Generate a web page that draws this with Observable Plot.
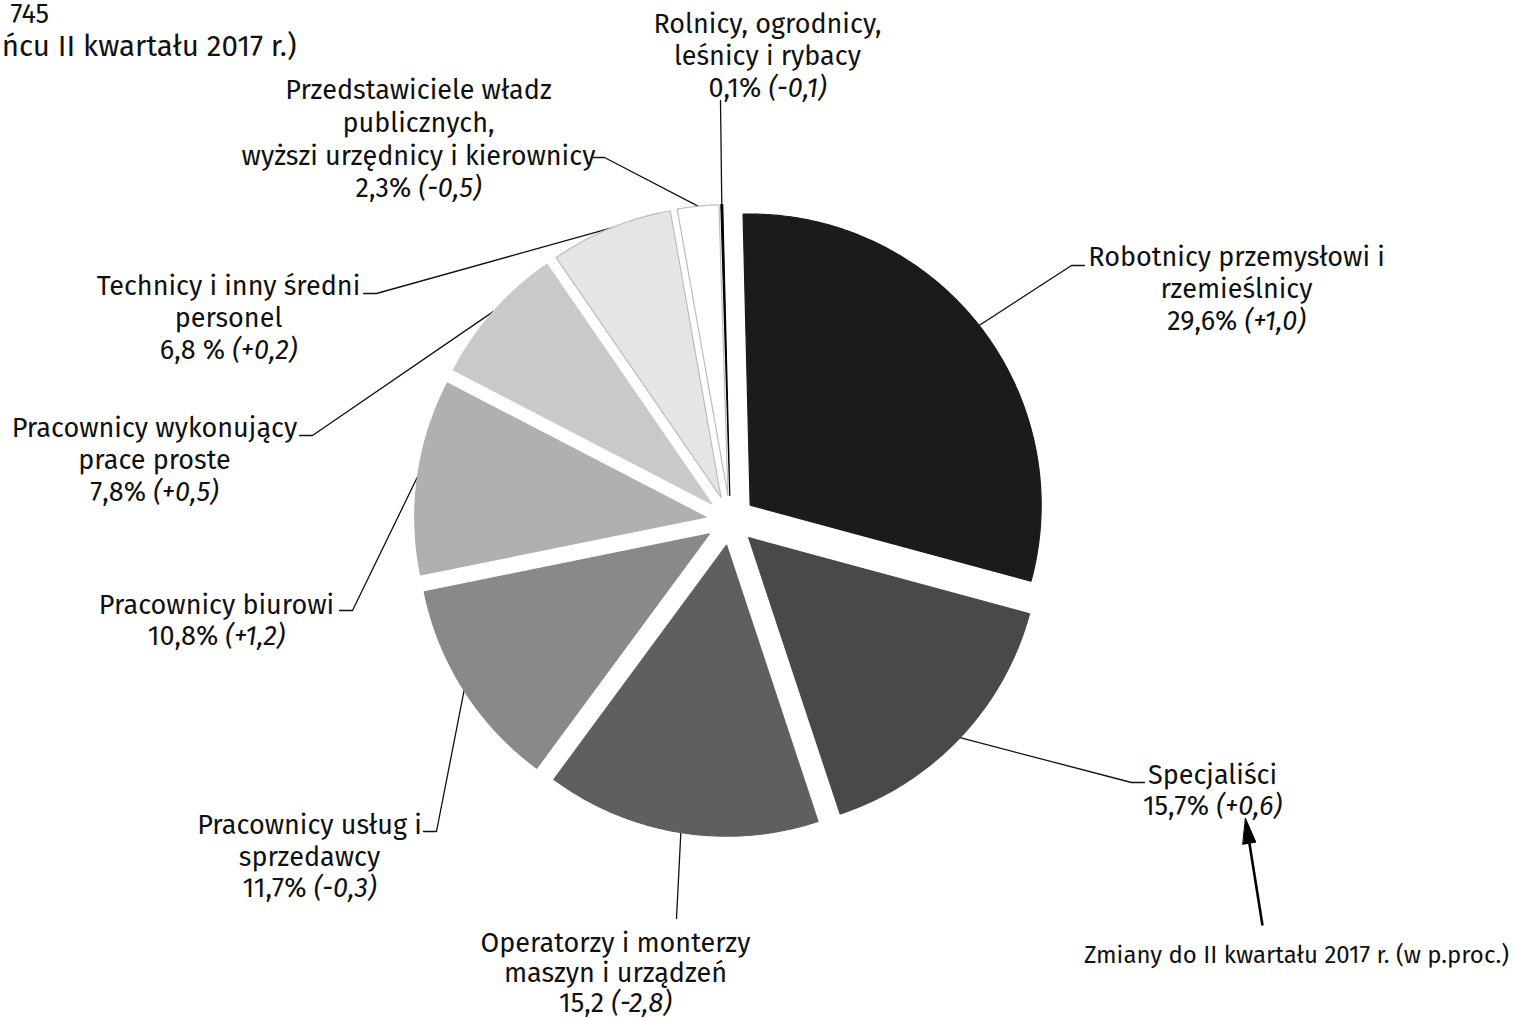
<!DOCTYPE html>
<html><head><meta charset="utf-8">
<script src="https://cdn.jsdelivr.net/npm/d3@7"></script>
<script src="https://cdn.jsdelivr.net/npm/@observablehq/plot@0.6"></script>
<style>body{margin:0;background:#fff;overflow:hidden} svg{display:block}</style>
</head><body><div id="chart"></div>
<script>
// ---- data ----
const categories = [
  "Robotnicy przemysłowi i rzemieślnicy",
  "Specjaliści",
  "Operatorzy i monterzy maszyn i urządzeń",
  "Pracownicy usług i sprzedawcy",
  "Pracownicy biurowi",
  "Pracownicy wykonujący prace proste",
  "Technicy i inny średni personel",
  "Przedstawiciele władz publicznych, wyższi urzędnicy i kierownicy",
  "Rolnicy, ogrodnicy, leśnicy i rybacy"
];
const shares = [29.6, 15.7, 15.2, 11.7, 10.8, 7.8, 6.8, 2.3, 0.1];
const changes = ["+1,0", "+0,6", "-2,8", "-0,3", "+1,2", "+0,5", "+0,2", "-0,5", "-0,1"];
const valueLabels = ["29,6%", "15,7%", "15,2", "11,7%", "10,8%", "7,8%", "6,8 %", "2,3%", "0,1%"];
const labelLines = [
  ["Robotnicy przemysłowi i", "rzemieślnicy"],
  ["Specjaliści"],
  ["Operatorzy i monterzy", "maszyn i urządzeń"],
  ["Pracownicy usług i", "sprzedawcy"],
  ["Pracownicy biurowi"],
  ["Pracownicy wykonujący", "prace proste"],
  ["Technicy i inny średni", "personel"],
  ["Przedstawiciele władz", "publicznych,", "wyższi urzędnicy i kierownicy"],
  ["Rolnicy, ogrodnicy,", "leśnicy i rybacy"]
];
const titleLines = ["745", "ńcu II kwartału 2017 r.)"];
const noteText = "Zmiany do II kwartału 2017 r. (w p.proc.)";

// ---- styles ----
const fills = ["#1b1b1b", "#494949", "#5f5f5f", "#898989", "#b0b0b0", "#c9c9c9", "#e5e5e5", "#ffffff", "#000000"];
const strokes = ["#1b1b1b", "#494949", "#5f5f5f", "#898989", "#b0b0b0", "#c9c9c9", "#bdbdbd", "#bdbdbd", "#000000"];

// ---- layout ----
const CX = 730, CY = 520, R = 291, EXPLODE = 25, START = -1.4 * Math.PI / 180;
const FONT = "'Fira Sans', 'Noto Sans', sans-serif";
const FS = 27;
const labelLayout = [
  {x: 1236, y: 257, step: 32, sx: 1084, sy: 265, dir: -1},
  {x: 1212, y: 775, step: 31, sx: 1144, sy: 782, dir: -1},
  {x: 615, y: 943, step: 30, sx: 676, sy: 918, dir: 0},
  {x: 309, y: 825, step: 31.5, sx: 423, sy: 831, dir: 1},
  {x: 216, y: 605, step: 31, sx: 339, sy: 610, dir: 1},
  {x: 154, y: 428, step: 32, sx: 299, sy: 435, dir: 1},
  {x: 228, y: 286, step: 32, sx: 363, sy: 293, dir: 1},
  {x: 418, y: 90, step: 32.7, sx: 591, sy: 157, dir: 1},
  {x: 767, y: 24, step: 32, sx: 720, sy: 100, dir: 0}
];
const arrowLayout = {x1: 1262, y1: 925, x2: 1245, y2: 818, head: 25, halfWidth: 6.5};

const data = categories.map((c, i) => ({i, c, v: shares[i]}));
const arcs = d3.pie().sort(null).value(d => d.v).startAngle(START).endAngle(START + 2 * Math.PI)(data);

const polys = [];
const slicePts = [];
arcs.forEach(a => {
  const mid = (a.startAngle + a.endAngle) / 2;
  const ox = CX + EXPLODE * Math.sin(mid), oy = CY - EXPLODE * Math.cos(mid);
  const i = a.data.i;
  polys.push({id: i, x: ox, y: oy, fill: fills[i], stroke: strokes[i]});
  const n = Math.max(2, Math.ceil((a.endAngle - a.startAngle) / (0.5 * Math.PI / 180)));
  for (let k = 0; k <= n; k++) {
    const t = a.startAngle + (a.endAngle - a.startAngle) * k / n;
    polys.push({id: i, x: ox + R * Math.sin(t), y: oy - R * Math.cos(t), fill: fills[i], stroke: strokes[i]});
  }
  slicePts[i] = {x: ox + R * Math.sin(mid), y: oy - R * Math.cos(mid)};
});

const leaders = [];
labelLayout.forEach((L, i) => {
  leaders.push({id: i, x: L.sx, y: L.sy});
  if (L.dir !== 0) leaders.push({id: i, x: L.sx + L.dir * 13, y: L.sy});
  leaders.push({id: i, x: slicePts[i].x, y: slicePts[i].y});
});

const textRows = [];
labelLayout.forEach((L, i) => {
  const lines = [...labelLines[i], `${valueLabels[i]} (${changes[i]})`];
  lines.forEach((t, k) => textRows.push({x: L.x, y: L.y + k * L.step, t}));
});

// arrow head polygon
const A = arrowLayout;
const len = Math.hypot(A.x2 - A.x1, A.y2 - A.y1);
const ux = (A.x2 - A.x1) / len, uy = (A.y2 - A.y1) / len;
const bx = A.x2 - ux * A.head, by = A.y2 - uy * A.head;
const headPts = [
  {x: A.x2, y: A.y2},
  {x: bx - uy * A.halfWidth, y: by + ux * A.halfWidth},
  {x: bx + uy * A.halfWidth, y: by - ux * A.halfWidth}
];

const chart = Plot.plot({
  width: 1514, height: 1018, margin: 0,
  style: {fontFamily: FONT, background: "#fff"},
  x: {domain: [0, 1514], range: [0, 1514], axis: null},
  y: {domain: [0, 1018], range: [0, 1018], axis: null},
  color: {type: "identity"},
  marks: [
    Plot.line(leaders, {x: "x", y: "y", z: "id", stroke: "#111", strokeWidth: 1.3}),
    Plot.line(polys, {x: "x", y: "y", z: "id", fill: "fill", stroke: "stroke", strokeWidth: 1.2, curve: "linear-closed"}),
    Plot.text(textRows, {x: "x", y: "y", text: "t", fontSize: FS, fill: "#111", textAnchor: "middle"}),
    Plot.text([titleLines[0]], {x: () => 10, y: () => 14, text: d => d, fontSize: FS, fill: "#111", textAnchor: "start"}),
    Plot.text([titleLines[1]], {x: () => 296, y: () => 46, text: d => d, fontSize: 29.5, fill: "#111", textAnchor: "end"}),
    Plot.text([noteText], {x: () => 1296, y: () => 955, text: d => d, fontSize: 24, fill: "#111", textAnchor: "middle"}),
    Plot.link([A], {x1: "x1", y1: "y1", x2: () => bx, y2: () => by, stroke: "#000", strokeWidth: 2.6}),
    Plot.line(headPts, {x: "x", y: "y", fill: "#000", stroke: "#000", strokeWidth: 1, curve: "linear-closed"})
  ]
});
document.getElementById("chart").append(chart);

// italicise the change in parentheses
chart.querySelectorAll("text").forEach(el => {
  const s = el.textContent;
  const m = s.match(/^(.*?)(\([+-][\d,]+\))$/);
  if (!m) return;
  el.textContent = "";
  const a = document.createElementNS("http://www.w3.org/2000/svg", "tspan");
  a.textContent = m[1];
  const b = document.createElementNS("http://www.w3.org/2000/svg", "tspan");
  b.textContent = m[2];
  b.setAttribute("font-style", "italic");
  el.append(a, b);
});
</script>
</body></html>
